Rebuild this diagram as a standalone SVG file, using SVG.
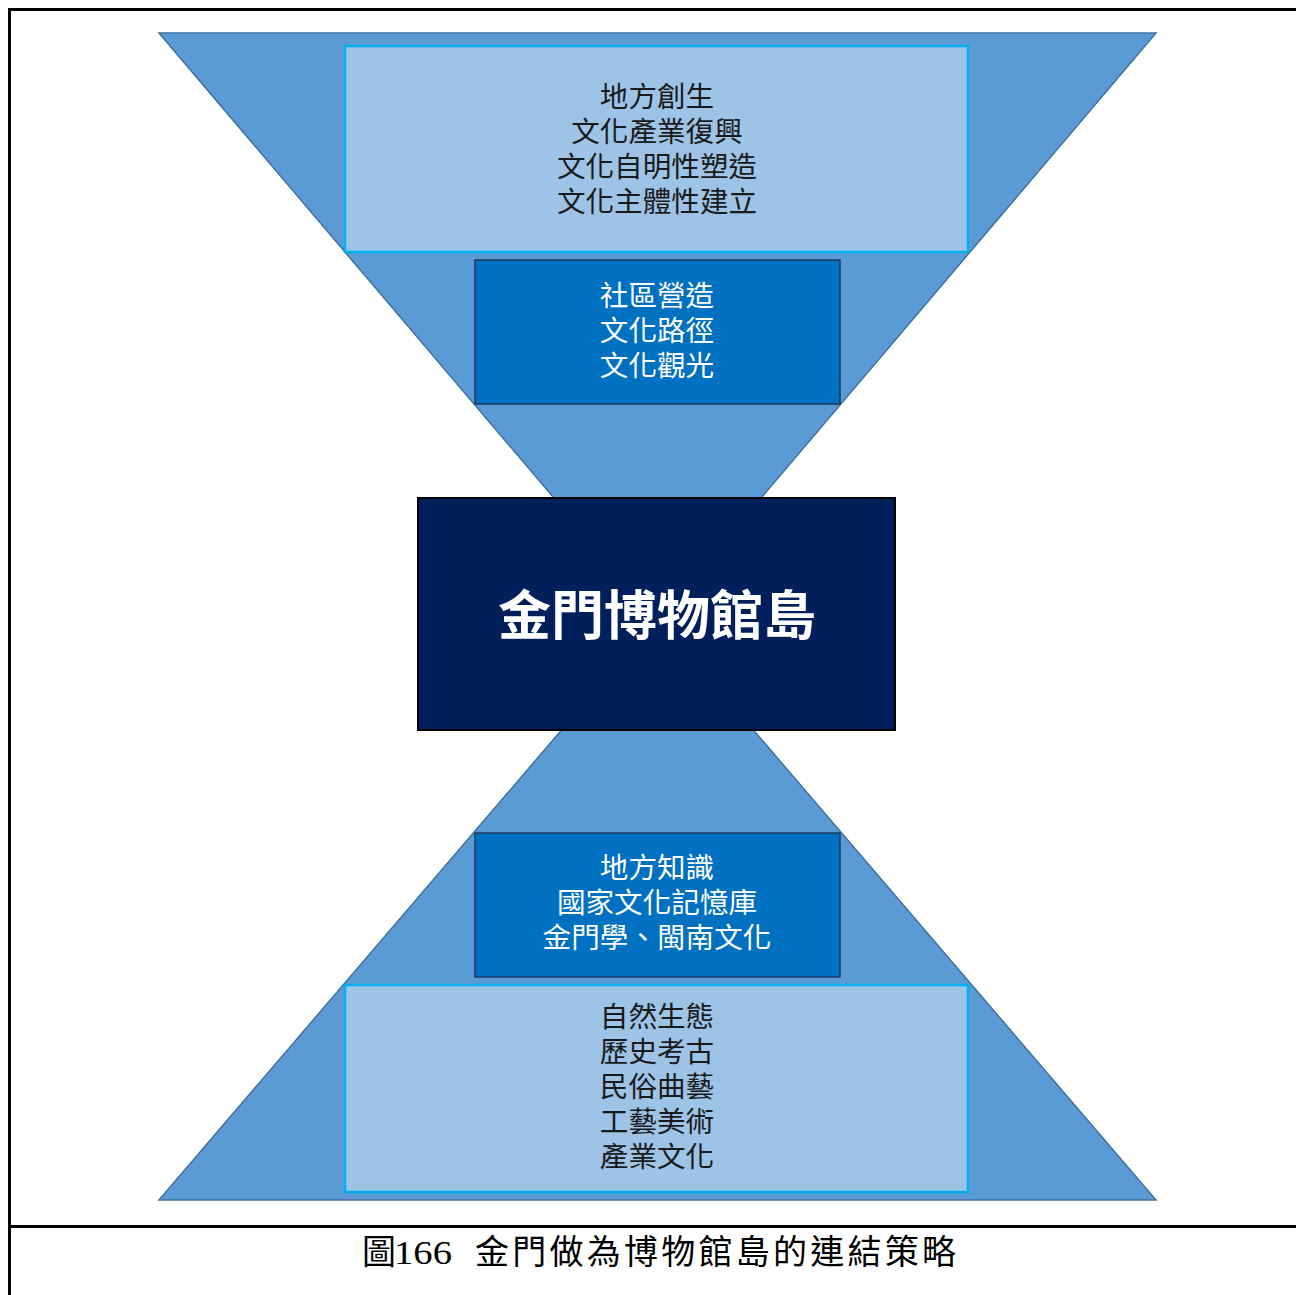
<svg xmlns="http://www.w3.org/2000/svg" width="1296" height="1295" viewBox="0 0 1296 1295">
<style>
.tri{fill:#5B9BD5;stroke:#41719C;stroke-width:1.5}
.light{fill:#9DC3E6;stroke:#00B0F0;stroke-width:2.5}
.mid{fill:#0070C0;stroke:#1F3A5F;stroke-width:1.5}
.core{fill:#001F5B;stroke:#000;stroke-width:2}
.t{font-family:"Noto Sans CJK TC","Noto Sans CJK SC",sans-serif;font-size:28.6px;text-anchor:middle}
.dark{fill:#1a1a1a}
.white{fill:#ffffff}
.big{font-family:"Noto Sans CJK TC","Noto Sans CJK SC",sans-serif;font-size:53px;font-weight:bold;fill:#fff;text-anchor:middle}
.cap{font-family:"Liberation Serif","Noto Sans CJK TC",serif;font-size:34px;fill:#000}
.frame{stroke:#000;stroke-width:3;fill:none}
</style>
<rect width="1296" height="1295" fill="#fff"/>
<g id="frame">
<path class="frame" d="M9.5,1295 V9.5 H1296"/>
<path class="frame" d="M9.5,1226.5 H1296"/>
</g>
<g id="connectors">
<polygon class="tri" points="159,33 1156,33 657.5,620"/>
<polygon class="tri" points="657.5,618 159,1200 1156,1200"/>
</g>
<g id="node-top-light">
<rect class="light" x="345" y="46" width="623" height="206"/>
<text class="t dark" x="657" y="107">地方創生</text>
<text class="t dark" x="657" y="142">文化產業復興</text>
<text class="t dark" x="657" y="177">文化自明性塑造</text>
<text class="t dark" x="657" y="212">文化主體性建立</text>
</g>
<g id="node-top-mid">
<rect class="mid" x="475" y="260" width="365" height="144"/>
<text class="t white" x="657" y="306">社區營造</text>
<text class="t white" x="657" y="341">文化路徑</text>
<text class="t white" x="657" y="376">文化觀光</text>
</g>
<g id="node-core">
<rect class="core" x="418" y="498" width="477" height="232"/>
<text class="big" x="657" y="635">金門博物館島</text>
</g>
<g id="node-bottom-mid">
<rect class="mid" x="475" y="833" width="365" height="144"/>
<text class="t white" x="657" y="878">地方知識</text>
<text class="t white" x="657" y="913">國家文化記憶庫</text>
<text class="t white" x="657" y="948">金門學、閩南文化</text>
</g>
<g id="node-bottom-light">
<rect class="light" x="345" y="985" width="623" height="207"/>
<text class="t dark" x="657" y="1027">自然生態</text>
<text class="t dark" x="657" y="1062">歷史考古</text>
<text class="t dark" x="657" y="1097">民俗曲藝</text>
<text class="t dark" x="657" y="1132">工藝美術</text>
<text class="t dark" x="657" y="1167">產業文化</text>
</g>
<g id="caption">
<text class="cap" x="362" y="1264">圖<tspan x="394" textLength="58" lengthAdjust="spacingAndGlyphs">166</tspan><tspan x="475" textLength="481" lengthAdjust="spacing">金門做為博物館島的連結策略</tspan></text>
</g>
</svg>
